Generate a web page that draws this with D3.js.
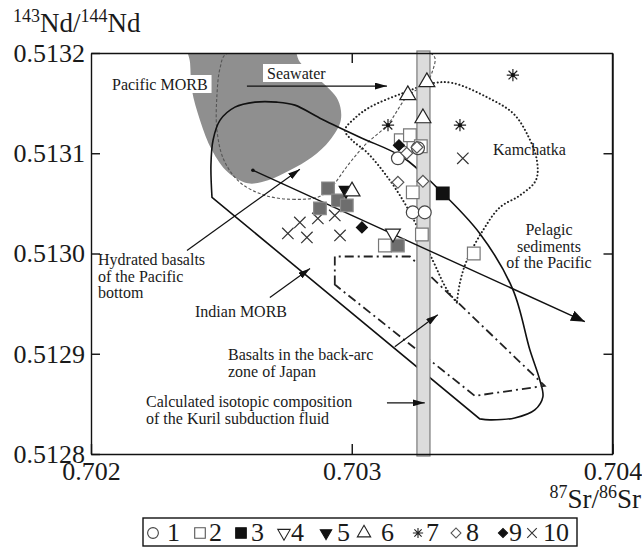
<!DOCTYPE html>
<html>
<head>
<meta charset="utf-8">
<script src="https://cdn.jsdelivr.net/npm/d3@7"></script>
<style>
html, body { margin: 0; padding: 0; background: #fff; }
svg { display: block; }
text { font-family: "Liberation Serif", "Times New Roman", serif; fill: #1a1a1a; }
</style>
</head>
<body>
<svg id="chart" width="642" height="548"></svg>
<script>
// ---- axes -------------------------------------------------------------
const srDomain = [0.702, 0.704];
const ndDomain = [0.5128, 0.5132];
const srTicks = [0.702, 0.703, 0.704];
const ndTicks = [0.5128, 0.5129, 0.5130, 0.5131, 0.5132];

// ---- samples: [87Sr/86Sr, 143Nd/144Nd] ---------------------------------
const series1 = [[0.703177, 0.513095], [0.703254, 0.513105], [0.703234, 0.513041], [0.703280, 0.513041]];
const series2 = [[0.703188, 0.513113], [0.703223, 0.513118], [0.703265, 0.513107], [0.703234, 0.513061],
                 [0.703269, 0.513019], [0.703127, 0.513008], [0.703468, 0.513000]];
const series3 = [[0.703349, 0.513060]];
const series3Shaded = [[0.702909, 0.513065], [0.702878, 0.513045], [0.702947, 0.513053], [0.702981, 0.513048],
                       [0.703177, 0.513008]];
const series4 = [[0.703158, 0.513020]];
const series5 = [[0.702978, 0.513063]];
const series6 = [[0.703215, 0.513158], [0.703288, 0.513171], [0.703273, 0.513135], [0.703001, 0.513062]];
const series7 = [[0.703139, 0.513128], [0.703415, 0.513128], [0.703618, 0.513178]];
const series8 = [[0.703177, 0.513071], [0.703273, 0.513072], [0.703250, 0.513106], [0.703211, 0.513100]];
const series9 = [[0.703039, 0.513026], [0.703181, 0.513108]];
const series10 = [[0.702755, 0.513020], [0.702801, 0.513031], [0.702828, 0.513016], [0.702870, 0.513035],
                  [0.702935, 0.513038], [0.702955, 0.513018], [0.703426, 0.513095]];

// ---- reference fields ----------------------------------------------------
const pacificMorb = [[0.702372, 0.513213], [0.702380, 0.513190], [0.702387, 0.513163], [0.702418, 0.513133],
                     [0.702464, 0.513103], [0.702525, 0.513081], [0.702602, 0.513070], [0.702679, 0.513073],
                     [0.702763, 0.513083], [0.702847, 0.513096], [0.702916, 0.513113], [0.702958, 0.513133],
                     [0.702947, 0.513153], [0.702878, 0.513173], [0.702801, 0.513191], [0.702763, 0.513213]];
const indianMorb = [[0.702464, 0.513056], [0.702460, 0.513088], [0.702468, 0.513113], [0.702495, 0.513133],
                    [0.702552, 0.513146], [0.702629, 0.513151], [0.702713, 0.513151], [0.702782, 0.513148],
                    [0.702878, 0.513135], [0.703031, 0.513116], [0.703196, 0.513096], [0.703326, 0.513066],
                    [0.703491, 0.513020], [0.703618, 0.512964], [0.703683, 0.512904], [0.703721, 0.512874],
                    [0.703733, 0.512857], [0.703702, 0.512844], [0.703625, 0.512836], [0.703530, 0.512834],
                    [0.703491, 0.512835]];
const kamchatka = [[0.703403, 0.512951], [0.703365, 0.512964], [0.703311, 0.512993], [0.703223, 0.513041],
                   [0.703146, 0.513073], [0.703058, 0.513101], [0.703001, 0.513113], [0.702974, 0.513123],
                   [0.703012, 0.513135], [0.703070, 0.513146], [0.703196, 0.513160], [0.703311, 0.513170],
                   [0.703388, 0.513170], [0.703518, 0.513156], [0.703618, 0.513140], [0.703671, 0.513120],
                   [0.703710, 0.513093], [0.703706, 0.513073], [0.703645, 0.513058], [0.703568, 0.513046],
                   [0.703503, 0.513023], [0.703441, 0.512993], [0.703415, 0.512971], [0.703403, 0.512951]];
const japanBackArc = [[0.702935, 0.512969], [0.702935, 0.512997], [0.703223, 0.512997],
                      [0.703740, 0.512868], [0.703472, 0.512858]];
const hydratedBasalts = [[0.702878, 0.513057], [0.702782, 0.513054], [0.702667, 0.513058], [0.702571, 0.513071],
                         [0.702510, 0.513093], [0.702483, 0.513123], [0.702483, 0.513158], [0.702495, 0.513185],
                         [0.702518, 0.513199], [0.702700, 0.513201], [0.703000, 0.513201], [0.703300, 0.513200],
                         [0.703319, 0.513195], [0.703311, 0.513183], [0.703288, 0.513171], [0.703211, 0.513156],
                         [0.703139, 0.513129], [0.703050, 0.513108], [0.702985, 0.513088], [0.702928, 0.513068]];
const mixingTrend = [[0.702621, 0.513083], [0.703894, 0.512932]];
const kurilFluidSr = [0.70325, 0.70330];

// ---- pointer arrows ------------------------------------------------------
const arrowSeawater = [[0.702598, 0.513167], [0.703135, 0.513167]];
const arrowHydrated = [[0.702368, 0.513003], [0.702801, 0.513084]];
const arrowIndian = [[0.702686, 0.512956], [0.702840, 0.512985]];
const arrowBackArc = [[0.703165, 0.512907], [0.703330, 0.512939]];
const arrowKuril = [[0.703135, 0.512851], [0.703280, 0.512851]];

// ---- legend ------------------------------------------------------------
const legendLabels = ["1", "2", "3", "4", "5", "6", "7", "8", "9", "10"];

// ======================================================================
const svg = d3.select("#chart");
const L = 91, R = 612.5, T = 53, B = 454;
const x = d3.scaleLinear().domain(srDomain).range([L, R]);
const y = d3.scaleLinear().domain(ndDomain).range([B, T]);

svg.append("defs").append("clipPath").attr("id", "plotClip")
  .append("rect").attr("x", L).attr("y", T).attr("width", R - L).attr("height", B - T);
const defs = svg.select("defs");
function headMarker(id, len, half) {
  defs.append("marker").attr("id", id)
    .attr("viewBox", `0 ${-half} ${len} ${2 * half}`)
    .attr("refX", len).attr("refY", 0)
    .attr("markerUnits", "userSpaceOnUse")
    .attr("markerWidth", len).attr("markerHeight", 2 * half)
    .attr("orient", "auto")
    .append("path").attr("d", `M0,${-half}L${len},0L0,${half}Z`).attr("fill", "#111");
}
headMarker("headSmall", 12, 3.5);
headMarker("headBig", 14, 5.5);

const plot = svg.append("g").attr("clip-path", "url(#plotClip)");
const line = d3.line().x(d => x(d[0])).y(d => y(d[1]));

// Pacific MORB field
plot.append("path")
  .attr("d", line.curve(d3.curveCatmullRomClosed.alpha(0.5))(pacificMorb))
  .attr("fill", "#8f8f8f").attr("stroke", "none");

// Kuril subduction fluid band
svg.append("rect")
  .attr("x", x(kurilFluidSr[0])).attr("width", x(kurilFluidSr[1]) - x(kurilFluidSr[0]))
  .attr("y", T - 2).attr("height", B - T + 4)
  .attr("fill", "#dcdcdc").attr("stroke", "#7a7a7a").attr("stroke-width", 1.2);

// Hydrated basalts (dashed)
plot.append("path")
  .attr("d", line.curve(d3.curveCatmullRomClosed.alpha(0.5))(hydratedBasalts))
  .attr("fill", "none").attr("stroke", "#555").attr("stroke-width", 1.1)
  .attr("stroke-dasharray", "3,2");

// Indian MORB (solid)
plot.append("path")
  .attr("d", line.curve(d3.curveCatmullRom.alpha(0.5))(indianMorb) + "Z")
  .attr("fill", "none").attr("stroke", "#111").attr("stroke-width", 1.6);

// Kamchatka (dotted)
plot.append("path")
  .attr("d", line.curve(d3.curveCatmullRom.alpha(0.5))(kamchatka))
  .attr("fill", "none").attr("stroke", "#222").attr("stroke-width", 2)
  .attr("stroke-dasharray", "0.1,3.6").attr("stroke-linecap", "round");

// Back-arc basalts of Japan (dash-dot)
plot.append("path")
  .attr("d", line.curve(d3.curveLinearClosed)(japanBackArc))
  .attr("fill", "none").attr("stroke", "#222").attr("stroke-width", 1.8)
  .attr("stroke-dasharray", "9,4,2,4");

// mixing trend
svg.append("path")
  .attr("d", line.curve(d3.curveLinear)(mixingTrend))
  .attr("fill", "none").attr("stroke", "#111").attr("stroke-width", 1.4)
  .attr("marker-end", "url(#headBig)");
svg.append("circle").attr("cx", x(mixingTrend[0][0])).attr("cy", y(mixingTrend[0][1]))
  .attr("r", 1.8).attr("fill", "#111");

// ---- markers -------------------------------------------------------------
const asterisk = {
  draw(ctx, size) {
    const r = Math.sqrt(size) / 2, d = r * Math.SQRT1_2;
    ctx.moveTo(-r, 0); ctx.lineTo(r, 0);
    ctx.moveTo(0, -r); ctx.lineTo(0, r);
    ctx.moveTo(-d, -d); ctx.lineTo(d, d);
    ctx.moveTo(-d, d); ctx.lineTo(d, -d);
  }
};
const times = {
  draw(ctx, size) {
    const r = Math.sqrt(size) / 2;
    ctx.moveTo(-r, -r); ctx.lineTo(r, r);
    ctx.moveTo(r, -r); ctx.lineTo(-r, r);
  }
};
const styles = {
  circle:   { type: d3.symbolCircle, size: 130, rot: 0, fill: "#fff", stroke: "#444" },
  square:   { type: d3.symbolSquare, size: 160, rot: 0, fill: "#fff", stroke: "#777" },
  squareK:  { type: d3.symbolSquare, size: 160, rot: 0, fill: "#111", stroke: "#111" },
  squareG:  { type: d3.symbolSquare, size: 160, rot: 0, fill: "#6e6e6e", stroke: "#8a8a8a" },
  triDown:  { type: d3.symbolTriangle, size: 95, rot: 180, fill: "#fff", stroke: "#222" },
  triDownK: { type: d3.symbolTriangle, size: 80, rot: 180, fill: "#111", stroke: "#111" },
  triUp:    { type: d3.symbolTriangle, size: 110, rot: 0, fill: "#fff", stroke: "#222" },
  star:     { type: asterisk, size: 150, rot: 0, fill: "none", stroke: "#222" },
  diamond:  { type: d3.symbolSquare, size: 70, rot: 45, fill: "#fff", stroke: "#555" },
  diamondK: { type: d3.symbolSquare, size: 60, rot: 45, fill: "#111", stroke: "#111" },
  cross:    { type: times, size: 130, rot: 0, fill: "none", stroke: "#333" }
};
const groups = [
  { data: series10, style: "cross" },
  { data: series3Shaded, style: "squareG" },
  { data: series2, style: "square" },
  { data: series1, style: "circle" },
  { data: series8, style: "diamond" },
  { data: series4, style: "triDown" },
  { data: series5, style: "triDownK" },
  { data: series6, style: "triUp" },
  { data: series7, style: "star" },
  { data: series9, style: "diamondK" },
  { data: series3, style: "squareK" }
];
const markers = svg.append("g");
groups.forEach(g => {
  const s = styles[g.style];
  const sym = d3.symbol().type(s.type).size(s.size);
  markers.selectAll(null).data(g.data).join("path")
    .attr("d", sym)
    .attr("transform", d => `translate(${x(d[0])},${y(d[1])}) rotate(${s.rot})`)
    .attr("fill", s.fill).attr("stroke", s.stroke).attr("stroke-width", 1.2);
  if (g.style === "star") {
    markers.selectAll(null).data(g.data).join("circle")
      .attr("cx", d => x(d[0])).attr("cy", d => y(d[1])).attr("r", 2).attr("fill", "#111");
  }
});

// ---- pointer arrows -------------------------------------------------------
[arrowSeawater, arrowHydrated, arrowIndian, arrowBackArc, arrowKuril].forEach(a => {
  svg.append("path").attr("d", line.curve(d3.curveLinear)(a))
    .attr("fill", "none").attr("stroke", "#111").attr("stroke-width", 1.2)
    .attr("marker-end", "url(#headSmall)");
});

// ---- frame and axes --------------------------------------------------------
function styleAxis(g) {
  g.attr("font-family", null).attr("font-size", null);
  g.selectAll(".domain").attr("stroke", "#111").attr("stroke-width", 1.4);
  g.selectAll(".tick line").attr("stroke", "#111").attr("stroke-width", 1.4);
  g.selectAll(".tick text").attr("font-size", 26).attr("fill", "#1a1a1a");
}
svg.append("g").attr("transform", `translate(0,${B})`)
  .call(d3.axisBottom(x).tickValues(srTicks).tickSize(-10).tickSizeOuter(0).tickPadding(8)
    .tickFormat(d3.format(".3f")))
  .call(styleAxis);
svg.append("g").attr("transform", `translate(0,${T})`)
  .call(d3.axisTop(x).tickValues([srTicks[1]]).tickSize(-10).tickSizeOuter(0).tickFormat(""))
  .call(styleAxis);
svg.append("g").attr("transform", `translate(${L},0)`)
  .call(d3.axisLeft(y).tickValues(ndTicks).tickSize(-9).tickSizeOuter(0).tickPadding(6)
    .tickFormat(d3.format(".4f")))
  .call(styleAxis);
svg.append("g").attr("transform", `translate(${R},0)`)
  .call(d3.axisRight(y).tickValues(ndTicks.slice(1, 4)).tickSize(-9).tickSizeOuter(0).tickFormat(""))
  .call(styleAxis);
svg.append("line").attr("x1", R).attr("x2", R).attr("y1", T).attr("y2", B)
  .attr("stroke", "#111").attr("stroke-width", 1.4);

// axis titles with isotope mass numbers as superscripts
function isotopeTitle(parts, xPos, yPos, anchor) {
  const t = svg.append("text").attr("x", xPos).attr("y", yPos).attr("text-anchor", anchor)
    .attr("font-size", 27);
  parts.forEach(p => {
    t.append("tspan").text(p.s).attr("font-size", p.sup ? 18 : 27).attr("dy", p.sup ? -10 : 10);
  });
  t.select("tspan").attr("dy", -10);
}
isotopeTitle([{ s: "143", sup: 1 }, { s: "Nd/" }, { s: "144", sup: 1 }, { s: "Nd" }], 13, 32, "start");
isotopeTitle([{ s: "87", sup: 1 }, { s: "Sr/" }, { s: "86", sup: 1 }, { s: "Sr" }], 641, 508, "end");

// ---- field labels ----------------------------------------------------------
function label(lines, xPos, yPos, anchor, boxed) {
  const g = svg.append("g");
  const t = g.append("text").attr("font-size", 16).attr("text-anchor", anchor || "start");
  lines.forEach((s, i) => t.append("tspan").attr("x", xPos).attr("y", yPos + i * 16.5).text(s));
  if (boxed) {
    const bb = t.node().getBBox();
    g.insert("rect", "text").attr("x", bb.x - 4).attr("y", bb.y - 1)
      .attr("width", bb.width + 8).attr("height", bb.height + 1).attr("fill", "#fff");
  }
}
label(["Pacific MORB"], 112, 90, "start", true);
label(["Seawater"], 267, 79, "start", true);
label(["Kamchatka"], 493, 155);
label(["Hydrated basalts", "of the Pacific", "bottom"], 98, 265);
label(["Indian MORB"], 195, 317);
label(["Pelagic", "sediments", "of the Pacific"], 549, 235, "middle");
label(["Basalts in the back-arc", "zone of Japan"], 228, 360);
label(["Calculated isotopic composition", "of the Kuril subduction fluid"], 146, 407);

// ---- legend -----------------------------------------------------------------
const legendStyle = ["circle", "square", "squareK", "triDown", "triDownK", "triUp", "star", "diamond", "diamondK", "cross"];
const legendMarkX = [153, 200, 241, 284, 326, 364, 418, 456, 503, 532];
const legendTextX = [167, 209, 251, 291, 337, 381, 426, 466, 509, 543];
const lg = svg.append("g");
lg.append("rect").attr("x", 143).attr("y", 518).attr("width", 434).attr("height", 28)
  .attr("fill", "#fff").attr("stroke", "#111").attr("stroke-width", 1.4);
legendLabels.forEach((lab, i) => {
  const s = styles[legendStyle[i]];
  lg.append("path").attr("d", d3.symbol().type(s.type).size(s.size * 0.7)())
    .attr("transform", `translate(${legendMarkX[i]},533) rotate(${s.rot})`)
    .attr("fill", s.fill === "none" ? "none" : s.fill)
    .attr("stroke", s.stroke === "#777" ? "#555" : s.stroke).attr("stroke-width", 1.1);
  lg.append("text").attr("x", legendTextX[i]).attr("y", 541).attr("font-size", 26).text(lab);
});
</script>
</body>
</html>
